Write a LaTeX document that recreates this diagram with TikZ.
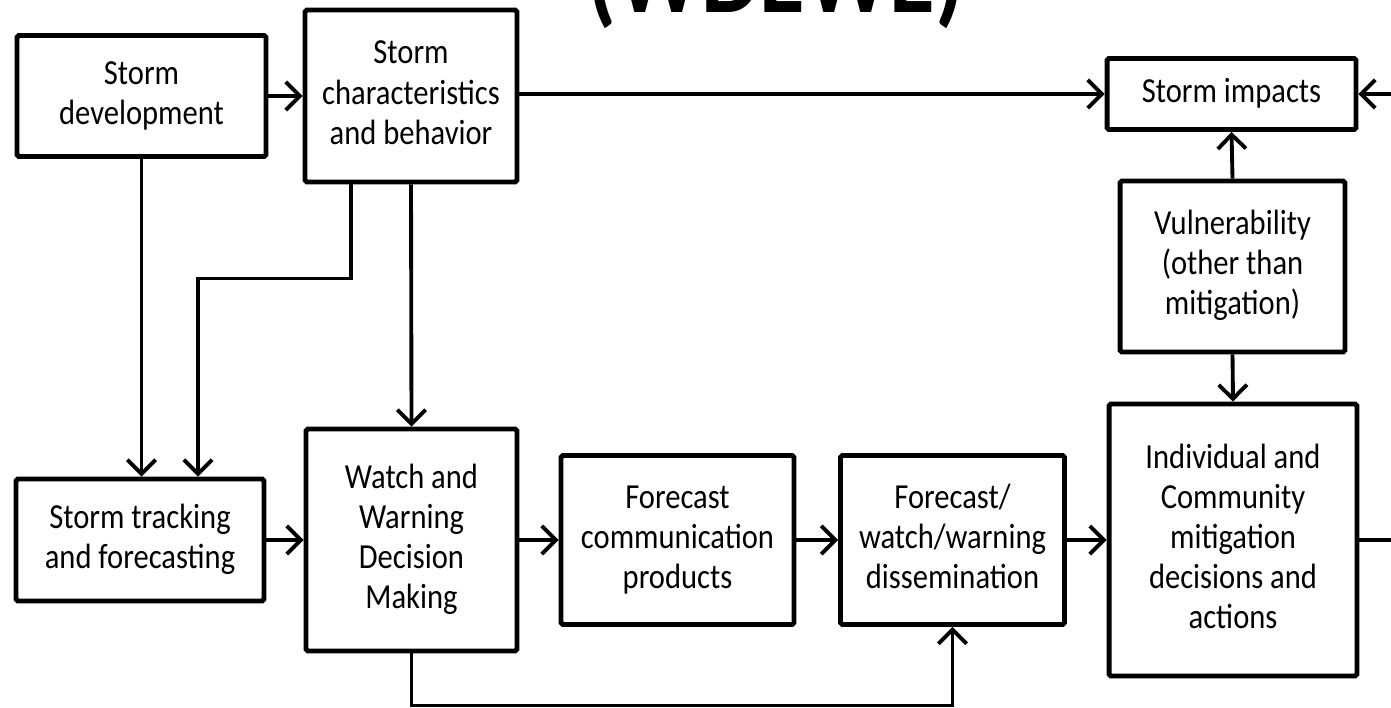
\documentclass[tikz,border=0pt]{standalone}
\usepackage{fontspec}
\setmainfont{Carlito}
\usepackage{graphicx}
\usepackage{tikz}
\usetikzlibrary{arrows, arrows.meta}
\usetikzlibrary{positioning, calc}

% box text, drawn a little taller than wide as in the slide
\newcommand{\stk}[1]{\scalebox{1}[1.15]{\begin{tabular}{@{}c@{}}#1\end{tabular}}}

\tikzset{
  block/.style={draw=black, line width=2.8pt, rounded corners=1pt, fill=white,
    align=center, inner sep=0pt, font=\fontsize{17.4}{19.8}\selectfont},
  link/.style={line width=2.2pt},
  flow/.style={link, -{Straight Barb[length=8pt, width=16pt, line width=2.2pt]}}
}

\begin{document}
\begin{tikzpicture}[x=0.02cm, y=-0.02cm]
      \useasboundingbox (0, 0) rectangle (1391, 707);

      % title, only its lower part is inside the page
      \node[anchor=base, font=\bfseries\fontsize{53}{60}\selectfont] (title) at (776, 12) {\scalebox{1}[1.15]{(WDEWE)}};

      % upper row
      \node[block, minimum width=4.98cm, minimum height=2.42cm] (dev) at (141.5, 96) {\stk{Storm\\development}};
      \node[block, minimum width=4.24cm, minimum height=3.44cm] (char) at (411, 96) {\stk{Storm\\characteristics\\and behavior}};
      \node[block, minimum width=4.98cm, minimum height=1.42cm] (impacts) at (1231.5, 94) {\stk{Storm impacts}};
      \node[block, minimum width=4.50cm, minimum height=3.42cm] (vuln) at (1232.5, 266.5) {\stk{Vulnerability\\(other than\\mitigation)}};

      % lower row
      \node[block, minimum width=4.96cm, minimum height=2.44cm] (trk) at (140, 540) {\stk{Storm tracking\\and forecasting}};
      \node[block, minimum width=4.22cm, minimum height=4.44cm] (watch) at (411.5, 540) {\stk{Watch and\\Warning\\Decision\\Making}};
      \node[block, minimum width=4.66cm, minimum height=3.38cm] (comm) at (677.5, 540) {\stk{Forecast\\communication\\products}};
      \node[block, minimum width=4.48cm, minimum height=3.38cm] (diss) at (952.5, 540) {\stk{Forecast/\\watch/warning\\dissemination}};
      \node[block, minimum width=4.96cm, minimum height=5.44cm] (indiv) at (1233, 540) {\stk{Individual and\\Community\\mitigation\\decisions and\\actions}};

      \coordinate (rin) at (1391, 94);
      \coordinate (rout) at (1391, 540);

      % connectors
      \draw[flow] (dev.east) -- (char.west |- dev.east);
      \draw[flow] (char.east |- impacts.west) -- (impacts.west);
      \draw[flow] (rin) -- (impacts.east);
      \draw[flow] (vuln.north) -- (impacts.south);
      \draw[flow] (vuln.south) -- (indiv.north);
      \draw[link] (indiv.east) -- (rout);

      \draw[flow] (dev.south) -- (dev.south |- trk.north);
      \draw[flow] ([xshift=-1.2cm]char.south) -- ++(0, 94) -| ([xshift=1.16cm]trk.north);
      \draw[flow] (char.south) -- (watch.north);

      \draw[flow] (trk.east) -- (watch.west);
      \draw[flow] (watch.east) -- (comm.west);
      \draw[flow] (comm.east) -- (diss.west);
      \draw[flow] (diss.east) -- (indiv.west);
      \draw[flow] (watch.south) -- ++(0, 52) -| (diss.south);

    \end{tikzpicture}
\end{document}
